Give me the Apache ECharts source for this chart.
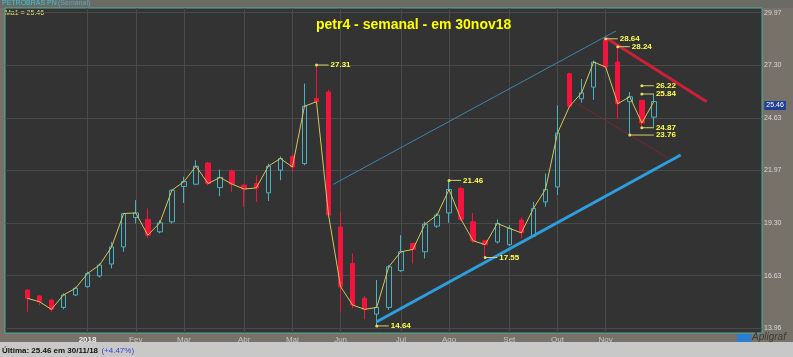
<!DOCTYPE html>
<html><head><meta charset="utf-8">
<script src="https://cdn.jsdelivr.net/npm/echarts@6/dist/echarts.min.js"></script>
<style>html,body{margin:0;padding:0;background:#76726a;}#c{width:793px;height:357px;}</style>
</head><body><div id="c"></div>
<script>
// Weekly dates (Fridays), 53 candles + empty future slots
const categories = [
 '01/12/17','08/12/17','15/12/17','22/12/17','29/12/17',
 '05/01/18','12/01/18','19/01/18','26/01/18',
 '02/02/18','09/02/18','16/02/18','23/02/18',
 '02/03/18','09/03/18','16/03/18','23/03/18','30/03/18',
 '06/04/18','13/04/18','20/04/18','27/04/18',
 '04/05/18','11/05/18','18/05/18','25/05/18',
 '01/06/18','08/06/18','15/06/18','22/06/18','29/06/18',
 '06/07/18','13/07/18','20/07/18','27/07/18',
 '03/08/18','10/08/18','17/08/18','24/08/18','31/08/18',
 '07/09/18','14/09/18','21/09/18','28/09/18',
 '05/10/18','12/10/18','19/10/18','26/10/18',
 '02/11/18','09/11/18','16/11/18','23/11/18','30/11/18',
 '07/12/18','14/12/18','21/12/18','28/12/18',
 '04/01/19','11/01/19','18/01/19','25/01/19','01/02/19'
];
const opens  = [15.90,15.60,15.39,15.02,15.65,16.07,16.61,17.22,18.09,19.58,19.48,18.85,19.36,21.15,21.27,22.34,21.10,21.94,21.22,21.30,20.83,21.98,22.68,22.31,25.61,25.94,19.10,17.25,15.48,14.68,15.02,16.88,18.26,17.84,19.14,19.81,21.05,19.36,18.40,18.34,18.20,19.45,18.63,20.37,21.13,26.87,25.60,26.19,28.59,27.46,25.45,25.52,24.67];
const closes = [15.48,15.31,14.92,15.65,15.99,16.74,17.17,18.09,19.78,19.81,18.68,19.31,20.96,21.40,22.18,21.30,21.61,21.27,21.02,21.08,22.18,22.57,22.14,25.22,25.45,19.70,16.07,15.14,14.92,15.02,17.08,17.84,17.96,19.24,19.70,21.00,19.48,18.40,18.20,19.28,19.03,18.80,20.04,21.00,23.86,25.22,25.90,27.46,27.21,25.35,25.70,24.37,25.46];
const lows   = [14.80,15.14,14.80,14.92,15.60,16.02,16.54,17.00,17.84,19.28,18.52,18.77,19.28,20.32,21.22,21.22,20.66,20.88,20.12,20.37,20.42,21.47,21.89,22.23,25.34,19.61,14.80,14.97,14.42,14.08,14.89,16.83,17.25,17.50,19.05,19.31,19.41,18.29,17.55,18.26,18.13,18.52,18.60,20.12,20.71,25.15,25.40,25.55,27.10,24.59,23.76,24.20,24.14];
const highs  = [15.93,15.63,15.46,15.73,16.07,16.83,17.25,18.34,19.81,20.46,20.04,19.44,21.00,21.64,22.48,22.40,22.01,22.01,21.27,21.72,22.31,22.68,22.79,26.37,27.31,26.06,19.86,17.76,15.60,16.41,17.16,18.68,18.29,19.36,19.80,21.46,21.13,19.81,18.45,19.48,19.20,19.58,20.37,21.81,25.27,26.92,26.60,27.54,28.64,28.24,25.94,25.55,25.84];

const yTickValues = [13.96,16.63,19.30,21.97,24.63,27.30,29.97];
const monthTickIdx  = [5,9,13,18,22,26,31,35,40,44,48];
const monthTickText = ['2018','Fev','Mar','Abr','Mai','Jun','Jul','Ago','Set','Out','Nov'];

// annotations: [startIndex, endIndex, price, text]
const annotations = [
 [24,25,27.31,'27.31'],[29,30,14.08,'14.64'],[35,36,21.46,'21.46'],[38,39,17.55,'17.55'],
 [48,49,28.64,'28.64'],[49,50,28.24,'28.24'],[51,52,26.26,'26.22'],[51,52,25.84,'25.84'],
 [51,52,24.13,'24.87'],[50,52,23.76,'23.76']
];
// trend lines: [[index, price],[index, price]]
const channelTopBlue = [[25.39,21.26],[48.85,29.04]];
const supportBlue    = [[29.0,14.29],[54.22,22.75]];
const resistRed      = [[48.08,28.67],[56.38,25.45]];
const innerRed       = [[45.54,25.39],[53.17,22.60]];
const lastClose = 25.46;

const Y_MIN = 13.722, Y_MAX = 30.202;
const chart = echarts.init(document.getElementById('c'));

const candleData = opens.map((o,i)=>[o, closes[i], lows[i], highs[i]]);

function trend(d, color, width){
  return {type:'line', xAxisIndex:2, yAxisIndex:1, data:d, symbol:'none', silent:true,
    lineStyle:{color:color, width:width}, z:4};
}
const annSeries = annotations.map(a=>({
  type:'line', xAxisIndex:2, yAxisIndex:1, silent:true, z:6,
  data:[{value:[a[0],a[2]], symbol:'circle', symbolSize:3},{value:[a[1],a[2]], symbol:'none'}],
  showSymbol:true,
  itemStyle:{color:'#e6dc6a'},
  lineStyle:{color:'#d8d070', width:1},
  endLabel:{show:true, formatter:a[3], color:'#ffff50', fontSize:8, fontWeight:'bold', distance:2, fontFamily:'Liberation Sans'}
}));

chart.setOption({
  animation:false,
  backgroundColor:'#76726a',
  textStyle:{fontFamily:'Liberation Sans'},
  title:{text:'petr4 - semanal - em 30nov18', left:311, top:13,
    textStyle:{color:'#ffff00', fontSize:14, fontWeight:'bold', fontFamily:'Liberation Sans'}},
  grid:[
    {left:5, top:8, width:757, height:325, show:true, backgroundColor:'#333333', borderColor:'#4fae9e', borderWidth:1},
    {left:27.3, top:8, width:735.05, height:325, show:false}
  ],
  xAxis:[
    {type:'value', gridIndex:0, show:false, min:0, max:1},
    {type:'category', gridIndex:1, data:categories, boundaryGap:false,
     axisLine:{show:false}, axisTick:{show:false},
     axisLabel:{interval:(i)=>monthTickIdx.includes(i), margin:3, fontSize:8, color:'#c8c8c0',
       formatter:(v,i)=>{const k=monthTickIdx.indexOf(i); if(k<0) return ''; return k===0?'{b|'+monthTickText[k]+'}':monthTickText[k];},
       rich:{b:{fontWeight:'bold', color:'#f0f0f0', fontSize:8}}},
     splitLine:{show:true, interval:(i)=>monthTickIdx.includes(i), lineStyle:{color:'#4a4a4a', width:1}}},
    {type:'value', gridIndex:1, show:false, min:0, max:categories.length-1}
  ],
  yAxis:[
    {type:'value', gridIndex:0, position:'right', min:Y_MIN, max:Y_MAX,
     axisLine:{show:false}, axisTick:{show:false, customValues:yTickValues},
     axisLabel:{customValues:yTickValues, formatter:(v)=>v.toFixed(2), fontSize:7, color:'#d8d8d8', margin:2},
     splitLine:{show:true, lineStyle:{color:'#4a4a4a', width:1}}},
    {type:'value', gridIndex:1, show:false, min:Y_MIN, max:Y_MAX}
  ],
  series:[
    {type:'candlestick', xAxisIndex:1, yAxisIndex:1, data:candleData, barWidth:5, z:3,
     itemStyle:{color:'rgba(0,0,0,0)', color0:'#f2143c', borderColor:'#45b3c4', borderColor0:'#f2143c', borderWidth:1}},
    {type:'line', xAxisIndex:1, yAxisIndex:1, data:closes, symbol:'none', z:5,
     lineStyle:{color:'#d6c65a', width:1},
     markLine:{silent:true, symbol:'none', lineStyle:{color:'rgba(0,0,0,0)', width:0},
       data:[{yAxis:lastClose, label:{show:true, position:'end', formatter:lastClose.toFixed(2), distance:2, offset:[0,4],
         color:'#ffffff', opacity:1, fontSize:7, backgroundColor:'#1f3f96', padding:[1,2]}}]}},
    trend(channelTopBlue,'#3a86b0',1),
    trend(innerRed,'#7a2432',1),
    trend(supportBlue,'#2d9fe0',3),
    trend(resistRed,'#cc2038',3),
    ...annSeries
  ],
  graphic:[
    {type:'rect', shape:{x:0,y:0,width:793,height:8}, style:{fill:'#6c6a64'}, z:-1},
    {type:'text', x:2, y:0, style:{text:'PETROBRAS PN', fill:'#35c6d8', font:'7px Liberation Sans'}},
    {type:'text', x:58, y:0, style:{text:'(Semanal)', fill:'#5aa8b8', font:'7px Liberation Sans'}},
    {type:'text', x:5, y:10, style:{text:'Ma1 = 25.46', fill:'#e8e070', font:'7px Liberation Sans'}},
    {type:'rect', shape:{x:0,y:342,width:793,height:15}, style:{fill:'#c8c8c8'}},
    {type:'text', x:2, y:345, style:{rich:{a:{fill:'#111', font:'bold 8px Liberation Sans'}, p:{fill:'#3544c8', font:'8px Liberation Sans'}}, text:'{a|Última: 25.46 em 30/11/18} {p|(+4.47%)}'}},
    {type:'rect', shape:{x:737,y:334,width:14,height:8}, style:{fill:'#2a7fd0'}},
    {type:'text', x:752, y:332, style:{text:'Apligraf', fill:'#3a3a3a', font:'italic 10px Liberation Sans'}}
  ]
});
</script></body></html>
